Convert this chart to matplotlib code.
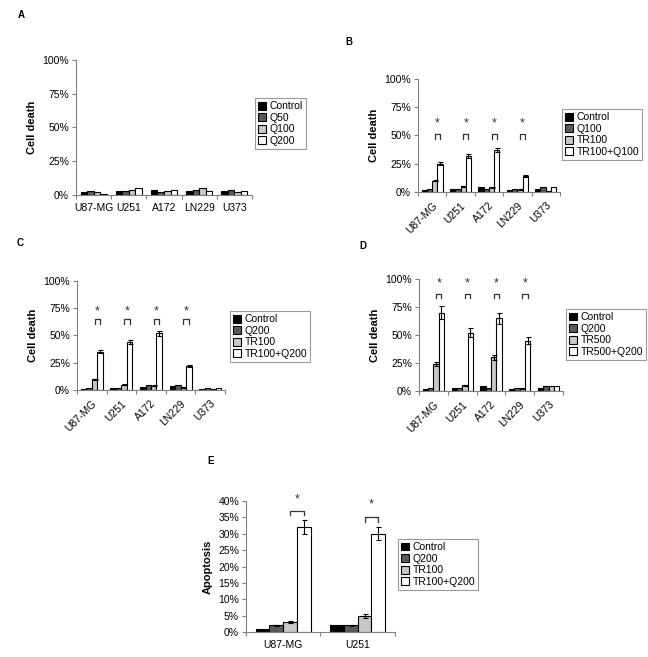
import numpy as np
import matplotlib.pyplot as plt
from matplotlib.ticker import PercentFormatter

plt.rcParams['font.family'] = ['Liberation Sans', 'DejaVu Sans']

lines5 = ["U87-MG", "U251", "A172", "LN229", "U373"]
lines2 = ["U87-MG", "U251"]

# panel A
legA = ["Control", "Q50", "Q100", "Q200"]
A_vals = [[2, 3, 4, 3, 3],
          [3, 3, 2, 4, 4],
          [2, 4, 3, 5, 2],
          [1, 5, 4, 3, 3]]

# panel B
legB = ["Control", "Q100", "TR100", "TR100+Q100"]
B_vals = [[2, 3, 4, 2, 3],
          [3, 3, 3, 3, 4],
          [10, 5, 4, 2, 1],
          [25, 32, 37, 14, 4]]
B_err = [[0, 0, 0, 0, 0],
         [0, 0, 0, 0, 0],
         [0.5, 0.4, 0.4, 0.3, 0],
         [1.2, 1.6, 1.6, 0.8, 0]]

# panel C
legC = ["Control", "Q200", "TR100", "TR100+Q200"]
C_vals = [[1, 2, 3, 4, 1],
          [2, 2, 5, 5, 2],
          [10, 5, 4, 2, 1],
          [35, 44, 52, 22, 2]]
C_err = [[0, 0, 0, 0, 0],
         [0, 0, 0, 0, 0],
         [0.5, 0.4, 0.4, 0.3, 0],
         [1.5, 2, 2.2, 0.8, 0]]

# panel D
legD = ["Control", "Q200", "TR500", "TR500+Q200"]
D_vals = [[2, 3, 4, 2, 3],
          [3, 3, 3, 3, 4],
          [24, 5, 30, 2, 4],
          [70, 52, 65, 45, 4]]
D_err = [[0, 0, 0, 0, 0],
         [0, 0, 0, 0, 0],
         [1.5, 0.4, 2, 0.3, 0],
         [5.5, 4, 5, 3.5, 0]]

# panel E
legE = ["Control", "Q200", "TR100", "TR100+Q200"]
E_vals = [[1, 2],
          [2, 2],
          [3, 5],
          [32, 30]]
E_err = [[0, 0],
         [0.2, 0.2],
         [0.3, 0.6],
         [2.2, 2.0]]

# significance: bracket height, star height (per group)
B_sig = [(51, 61), (51, 61), (51, 61), (51, 61)]
C_sig = [(65, 72), (65, 72), (65, 72), (65, 72)]
D_sig = [(87, 96), (87, 96), (87, 96), (87, 96)]
E_sig = [(37, 40.5), (35, 39)]

colors = ["#000000", "#5a5a5a", "#c8c8c8", "#ffffff"]
fs = 7.5

fig = plt.figure(figsize=(6.48, 6.57), dpi=100)


def panel(rect, cats, vals, labels, leg_xy, ylabel, ymax, ystep,
          err=None, sig=None, rot=False, bracket_drop=4):
    ax = fig.add_axes(rect)
    n = len(cats)
    x = np.arange(n)
    w = 0.185
    for i in range(4):
        xi = x + (i - 1.5) * w
        e = None
        if err is not None:
            e = np.array(err[i], dtype=float)
        ax.bar(xi, vals[i], width=w, color=colors[i], edgecolor="black",
               linewidth=0.8, label=labels[i])
        if e is not None and e.any():
            m = e > 0
            ax.errorbar(xi[m], np.array(vals[i])[m], yerr=e[m], fmt="none",
                        ecolor="black", elinewidth=0.8, capsize=1.8,
                        capthick=0.8)
    if sig is not None:
        for j, (bh, sh) in enumerate(sig):
            x3 = x[j] + 0.5 * w
            x4 = x[j] + 1.5 * w
            ax.plot([x3, x3, x4, x4], [bh - bracket_drop, bh, bh, bh - bracket_drop],
                    color="#333333", lw=0.9)
            ax.text((x3 + x4) / 2, sh, "*", ha="center", va="center",
                    fontsize=9, color="#333333")
    ax.set_xlim(-0.5, n - 0.5)
    ax.set_ylim(0, ymax)
    ax.set_yticks(np.arange(0, ymax + 0.01, ystep))
    ax.yaxis.set_major_formatter(PercentFormatter(100, decimals=0))
    ax.set_xticks(np.arange(-0.5, n, 1.0))
    ax.set_xticklabels([])
    ax.set_xticks(x, minor=True)
    if rot:
        ax.set_xticklabels(cats, minor=True, rotation=45, ha="right",
                           rotation_mode="anchor", fontsize=fs)
    else:
        ax.set_xticklabels(cats, minor=True, fontsize=fs)
    ax.tick_params(axis="x", which="minor", length=0, pad=6)
    ax.tick_params(axis="x", which="major", length=3, color="#808080")
    ax.tick_params(axis="y", length=3, color="#808080", labelsize=fs, pad=2)
    for s in ["top", "right"]:
        ax.spines[s].set_visible(False)
    for s in ["left", "bottom"]:
        ax.spines[s].set_color("#808080")
        ax.spines[s].set_linewidth(0.8)
    ax.set_ylabel(ylabel, fontsize=8, fontweight="bold")
    lg = ax.legend(loc="upper left", bbox_to_anchor=leg_xy,
                   bbox_transform=fig.transFigure, fontsize=fs,
                   frameon=True, fancybox=False, borderpad=0.3,
                   labelspacing=0.15, handlelength=0.8, handleheight=0.8,
                   handletextpad=0.3, borderaxespad=0)
    lg.get_frame().set_edgecolor("#808080")
    lg.get_frame().set_linewidth(0.8)
    return ax


axA = panel([0.1173, 0.7032, 0.2716, 0.2055], lines5, A_vals, legA,
            (0.3935, 0.8508), "Cell death", 100, 25)
axB = panel([0.645, 0.7078, 0.2191, 0.172], lines5, B_vals, legB,
            (0.8673, 0.834), "Cell death", 100, 25, err=B_err, sig=B_sig, rot=True)
axC = panel([0.1188, 0.4064, 0.2284, 0.1659], lines5, C_vals, legC,
            (0.3549, 0.5266), "Cell death", 100, 25, err=C_err, sig=C_sig, rot=True)
axD = panel([0.6466, 0.4049, 0.2222, 0.1705], lines5, D_vals, legD,
            (0.8735, 0.5297), "Cell death", 100, 25, err=D_err, sig=D_sig, rot=True)
axE = panel([0.3796, 0.038, 0.2299, 0.1994], lines2, E_vals, legE,
            (0.6142, 0.1796), "Apoptosis", 40, 5, err=E_err, sig=E_sig,
            bracket_drop=1.4)

fig.text(18 / 648, 1 - 15 / 657, "A", fontsize=7, fontweight="bold", va="center")
fig.text(345 / 648, 1 - 42 / 657, "B", fontsize=7, fontweight="bold", va="center")
fig.text(17 / 648, 1 - 243 / 657, "C", fontsize=7, fontweight="bold", va="center")
fig.text(359 / 648, 1 - 246 / 657, "D", fontsize=7, fontweight="bold", va="center")
fig.text(207 / 648, 1 - 461 / 657, "E", fontsize=7, fontweight="bold", va="center")

fig.savefig("out.png", dpi=100)
